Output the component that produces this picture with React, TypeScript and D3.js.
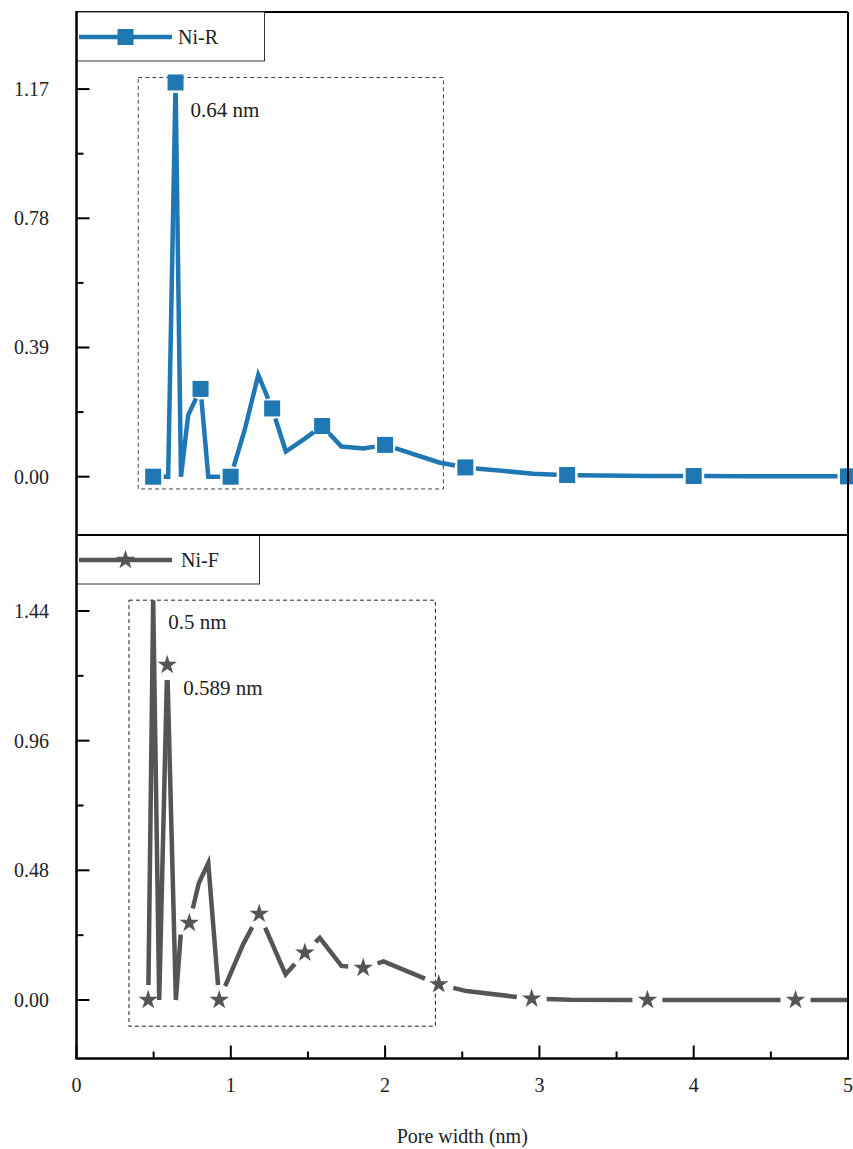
import * as d3 from 'd3'

// Ni-R pore size distribution (pore width nm, dV/dW)
const poreR = [0.497, 0.594, 0.642, 0.677, 0.724, 0.804, 0.854, 0.999, 1.09, 1.178, 1.268, 1.357, 1.48, 1.592, 1.717, 1.86, 2.0, 2.35, 2.52, 2.96, 3.18, 3.7, 4.0, 4.33, 4.66, 5.0]
const valR = [0, 0, 1.19, 0, 0.186, 0.265, 0, 0, 0.141, 0.307, 0.206, 0.076, 0.115, 0.153, 0.091, 0.085, 0.096, 0.043, 0.028, 0.009, 0.005, 0.002, 0.002, 0.001, 0.001, 0.001]
const markR = [0, 2, 5, 7, 10, 13, 16, 18, 20, 22, 25]

// Ni-F pore size distribution
const poreF = [0.465, 0.497, 0.536, 0.588, 0.644, 0.677, 0.731, 0.793, 0.854, 0.925, 1.08, 1.184, 1.355, 1.48, 1.577, 1.717, 1.858, 1.99, 2.348, 2.527, 2.95, 3.2, 3.7, 4.0, 4.34, 4.66, 5.0]
const valF = [0, 1.48, 0, 1.24, 0, 0.255, 0.285, 0.433, 0.507, 0, 0.206, 0.319, 0.095, 0.175, 0.23, 0.126, 0.119, 0.143, 0.058, 0.033, 0.005, 0.001, 0, 0, 0, 0, 0]
const markF = [0, 3, 6, 9, 11, 13, 16, 18, 20, 22, 25]

const xTicks = [0, 1, 2, 3, 4, 5]
const xMinor = [0.5, 1.5, 2.5, 3.5, 4.5]
const ticksR = [0, 0.39, 0.78, 1.17]
const minorR = [0.195, 0.585, 0.975]
const ticksF = [0, 0.48, 0.96, 1.44]
const minorF = [0.24, 0.72, 1.2]

// dashed zoom boxes: [x0, x1, y0, y1] in data units
const boxR = [0.4, 2.378, -0.037, 1.205]
const boxF = [0.34, 2.326, -0.097, 1.48]

const W = 853
const H = 1149
const LEFT = 76.5
const RIGHT = 848
const TOP = 12
const MID = 535
const BOTTOM = 1058.5
const FONT = '"Liberation Serif", "Times New Roman", serif'

const x = d3.scaleLinear().domain([0, 5]).range([LEFT, RIGHT])
const yR = d3.scaleLinear().domain([-0.176, 1.4027]).range([MID, TOP])
const yF = d3.scaleLinear().domain([-0.2166, 1.7213]).range([BOTTOM, MID])

const BLUE = '#1f77b4'
const GREY = '#555555'

type Pt = [number, number]

// shorten a polyline by `a` px at its start and `b` px at its end
function trim(poly: Pt[], a: number, b: number): Pt[] | null {
  const lens: number[] = []
  let total = 0
  for (let i = 1; i < poly.length; i++) {
    const l = Math.hypot(poly[i][0] - poly[i - 1][0], poly[i][1] - poly[i - 1][1])
    lens.push(l)
    total += l
  }
  if (total <= a + b + 1) return null
  const at = (d: number): [Pt, number] => {
    let acc = 0
    for (let i = 0; i < lens.length; i++) {
      if (acc + lens[i] >= d) {
        const t = lens[i] ? (d - acc) / lens[i] : 0
        const p0 = poly[i]
        const p1 = poly[i + 1]
        return [[p0[0] + (p1[0] - p0[0]) * t, p0[1] + (p1[1] - p0[1]) * t], i]
      }
      acc += lens[i]
    }
    return [poly[poly.length - 1], lens.length - 1]
  }
  const [s, si] = at(a)
  const [e, ei] = at(total - b)
  return [s, ...poly.slice(si + 1, ei + 1), e]
}

type PanelProps = {
  id: string
  pore: number[]
  vals: number[]
  marks: number[]
  y: d3.ScaleLinear<number, number>
  ticks: number[]
  minor: number[]
  box: number[]
  color: string
  shape: 'square' | 'star'
  label: string
  legendW: number
  top: number
  bottom: number
  notes: { text: string; i: number; dx: number; dy: number }[]
}

const starPath = d3.symbol(d3.symbolStar, 118)() as string

function Marker({ shape, cx, cy, color }: { shape: string; cx: number; cy: number; color: string }) {
  if (shape === 'square') {
    return <rect x={cx - 8} y={cy - 8} width={16} height={16} fill={color} />
  }
  return <path d={starPath} transform={`translate(${cx},${cy})`} fill={color} />
}

function Panel(p: PanelProps) {
  const pts: Pt[] = p.pore.map((d, i) => [x(d), p.y(p.vals[i])])
  const line = d3.line<Pt>()
  // line is broken around each symbol: split into runs between symbols
  const gap = p.shape === 'square' ? 10.5 : 15
  const isMark = new Set(p.marks)
  const runs: string[] = []
  let start = 0
  for (let i = 1; i < pts.length; i++) {
    if (isMark.has(i) || i === pts.length - 1) {
      const seg = trim(pts.slice(start, i + 1), isMark.has(start) ? gap : 0, isMark.has(i) ? gap : 0)
      if (seg) runs.push(line(seg) as string)
      start = i
    }
  }
  return (
    <g>
      {/* dashed zoom box */}
      <rect
        x={x(p.box[0])}
        y={p.y(p.box[3])}
        width={x(p.box[1]) - x(p.box[0])}
        height={p.y(p.box[2]) - p.y(p.box[3])}
        fill="none"
        stroke={p.shape === 'square' ? '#444' : '#222'}
        strokeWidth={1}
        strokeDasharray="4 3"
      />

      {/* y ticks */}
      {p.ticks.map((t) => (
        <g key={t}>
          <line x1={LEFT} x2={LEFT + 13} y1={p.y(t)} y2={p.y(t)} stroke="#000" strokeWidth={2} />
          <text x={49} y={p.y(t) + 7} textAnchor="end" fontSize={20} fontFamily={FONT} fill="#222">
            {t.toFixed(2)}
          </text>
        </g>
      ))}
      {p.minor.map((t) => (
        <line key={t} x1={LEFT} x2={LEFT + 7} y1={p.y(t)} y2={p.y(t)} stroke="#000" strokeWidth={2} />
      ))}

      {runs.map((d, k) => (
        <path key={k} d={d} fill="none" stroke={p.color} strokeWidth={4.5} strokeLinejoin="miter" />
      ))}
      {p.marks.map((i) => (
        <Marker key={i} shape={p.shape} cx={pts[i][0]} cy={pts[i][1]} color={p.color} />
      ))}

      {p.notes.map((n) => (
        <text
          key={n.text}
          x={pts[n.i][0] + n.dx}
          y={pts[n.i][1] + n.dy}
          fontSize={21}
          fontFamily={FONT}
          fill="#222"
        >
          {n.text}
        </text>
      ))}

      {/* frame top & right */}
      <line x1={LEFT} x2={RIGHT} y1={p.top} y2={p.top} stroke="#000" strokeWidth={2} />
      <line x1={RIGHT} x2={RIGHT} y1={p.top} y2={p.bottom} stroke="#000" strokeWidth={2} />

      {/* legend */}
      <rect x={LEFT} y={p.top} width={p.legendW} height={49} fill="#fff" stroke="#333" strokeWidth={1} />
      <line x1={79} x2={172} y1={p.top + 25} y2={p.top + 25} stroke={p.color} strokeWidth={4.5} />
      <Marker shape={p.shape} cx={125.5} cy={p.top + 25} color={p.color} />
      <text x={p.shape === 'square' ? 178 : 181} y={p.top + 32} fontSize={20} fontFamily={FONT} fill="#222">
        {p.label}
      </text>
    </g>
  )
}

export default function App() {
  return (
    <svg
      width={W}
      height={H}
      style={{ position: 'absolute', left: 0, top: 0, background: '#fff' }}
    >
      <rect x={0} y={0} width={W} height={H} fill="#fff" />
      <Panel
        id="f"
        pore={poreF}
        vals={valF}
        marks={markF}
        y={yF}
        ticks={ticksF}
        minor={minorF}
        box={boxF}
        color={GREY}
        shape="star"
        label="Ni-F"
        legendW={183}
        top={MID}
        bottom={BOTTOM}
        notes={[
          { text: '0.5 nm', i: 1, dx: 15, dy: 29 },
          { text: '0.589 nm', i: 3, dx: 16, dy: 30 },
        ]}
      />
      <Panel
        id="r"
        pore={poreR}
        vals={valR}
        marks={markR}
        y={yR}
        ticks={ticksR}
        minor={minorR}
        box={boxR}
        color={BLUE}
        shape="square"
        label="Ni-R"
        legendW={188}
        top={TOP}
        bottom={MID}
        notes={[{ text: '0.64 nm', i: 2, dx: 15, dy: 35 }]}
      />

      {/* shared separator, left axis, bottom axis */}
      <line x1={LEFT} x2={RIGHT} y1={MID} y2={MID} stroke="#000" strokeWidth={2} />
      <line x1={LEFT} x2={LEFT} y1={TOP - 1} y2={BOTTOM + 1} stroke="#000" strokeWidth={2.5} />
      <line x1={LEFT} x2={RIGHT + 1} y1={BOTTOM} y2={BOTTOM} stroke="#000" strokeWidth={2.5} />
      {xTicks.map((t) => (
        <g key={t}>
          <line x1={x(t)} x2={x(t)} y1={BOTTOM} y2={BOTTOM - 13} stroke="#000" strokeWidth={2} />
          <text x={x(t)} y={1092} textAnchor="middle" fontSize={20} fontFamily={FONT} fill="#222">
            {t}
          </text>
        </g>
      ))}
      {xMinor.map((t) => (
        <line key={t} x1={x(t)} x2={x(t)} y1={BOTTOM} y2={BOTTOM - 7} stroke="#000" strokeWidth={2} />
      ))}
      <text x={(LEFT + RIGHT) / 2} y={1143} textAnchor="middle" fontSize={20} fontFamily={FONT} fill="#222">
        Pore width (nm)
      </text>
    </svg>
  )
}
